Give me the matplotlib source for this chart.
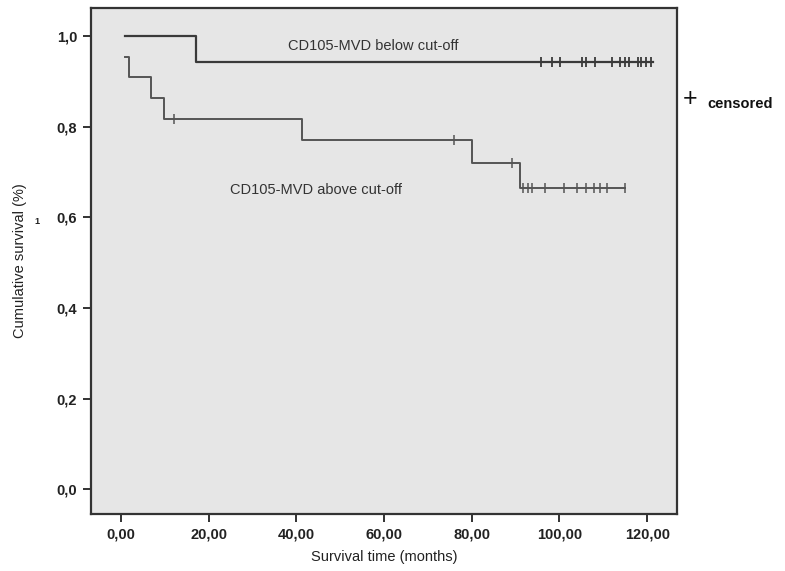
import matplotlib.pyplot as plt
import numpy as np

plt.rcParams['font.family'] = ['Liberation Sans', 'DejaVu Sans']

# Kaplan-Meier steps (time, survival after step)
below_times = [0.9, 17.1, 121.3]
below_surv = [1.0, 0.944, 0.944]
below_cens = [95.9, 98.2, 100.1, 105.1, 106.0, 108.1, 111.9, 113.8, 114.9,
              115.9, 118.0, 118.7, 119.7, 120.8]

above_times = [0.9, 1.9, 6.8, 9.8, 41.2, 80.0, 91.0, 114.9]
above_surv = [0.955, 0.909, 0.864, 0.818, 0.770, 0.719, 0.664, 0.664]
above_cens_t = [12.1, 76.0, 89.1, 91.6, 92.9, 93.7, 96.7, 101.0, 104.1,
                106.0, 107.9, 109.2, 110.9, 114.9]

xticks = [0, 20, 40, 60, 80, 100, 120]
yticks = [0.0, 0.2, 0.4, 0.6, 0.8, 1.0]


def surv_at(times, surv, t):
    idx = np.searchsorted(times, t, side='right') - 1
    return surv[max(idx, 0)]


fig = plt.figure(figsize=(7.85, 5.71), dpi=100)
ax = fig.add_axes([0.1159, 0.0998, 0.7465, 0.886])
ax.set_facecolor('#e6e6e6')

ax.step(below_times, below_surv, where='post', color='#3a3a3a', lw=1.6)
ax.step(above_times, above_surv, where='post', color='#555555', lw=1.4)

ax.plot(below_cens, [surv_at(below_times, below_surv, t) for t in below_cens],
        ls='none', marker='|', ms=6.5, mew=1.3, color='#3a3a3a')
ax.plot(above_cens_t, [surv_at(above_times, above_surv, t) for t in above_cens_t],
        ls='none', marker='|', ms=6.5, mew=1.1, color='#555555')

ax.text(57.5, 0.978, 'CD105-MVD below cut-off', fontsize=10.5, color='#333333',
        ha='center', va='center')
ax.text(44.5, 0.661, 'CD105-MVD above cut-off', fontsize=10.5, color='#333333',
        ha='center', va='center')

ax.set_xlim(-6.8, 126.8)
ax.set_ylim(-0.055, 1.062)
ax.set_xticks(xticks)
ax.set_xticklabels([f'{v:.2f}'.replace('.', ',') for v in xticks])
ax.set_yticks(yticks)
ax.set_yticklabels([f'{v:.1f}'.replace('.', ',') for v in yticks])
ax.tick_params(direction='out', length=6, width=1.3, labelsize=10.5,
               colors='#222222', pad=4)
for lab in ax.get_xticklabels() + ax.get_yticklabels():
    lab.set_fontweight('bold')
for sp in ax.spines.values():
    sp.set_linewidth(1.6)
    sp.set_color('#333333')

ax.set_xlabel('Survival time (months)', fontsize=10.5, color='#222222', labelpad=6)
ax.set_ylabel('Cumulative survival (%)', fontsize=10.5, color='#222222', labelpad=21)

# censored legend outside the frame
fig.text(690 / 785, 1 - 99 / 571, '+', fontsize=18, ha='center', va='center',
         color='#111111')
fig.text(707 / 785, 1 - 104 / 571, 'censored', fontsize=10.5, ha='left',
         va='center', color='#111111', fontweight='bold')
fig.text(37 / 785, 1 - 222 / 571, '1', fontsize=6.5, ha='center', va='center',
         color='#222222', fontweight='bold')

fig.savefig('out.png', dpi=100, facecolor='white')
